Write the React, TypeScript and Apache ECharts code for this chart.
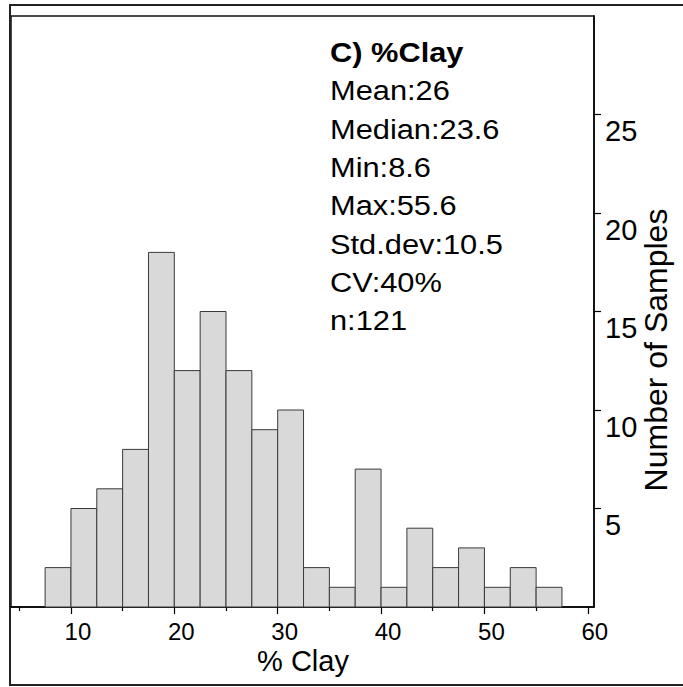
import React, { useEffect, useRef } from "react";
import * as echarts from "echarts";

// Histogram bins (% Clay) and counts
const binStarts = [7.5, 10, 12.5, 15, 17.5, 20, 22.5, 25, 27.5, 30, 32.5, 35, 37.5, 40, 42.5, 45, 47.5, 50, 52.5, 55];
const binEnds = [10, 12.5, 15, 17.5, 20, 22.5, 25, 27.5, 30, 32.5, 35, 37.5, 40, 42.5, 45, 47.5, 50, 52.5, 55, 57.5];
const counts = [2, 5, 6, 8, 18, 12, 15, 12, 9, 10, 2, 1, 7, 1, 4, 2, 3, 1, 2, 1];

// Axis ticks
const xMajorTicks = [10, 20, 30, 40, 50, 60];
const xMinorTicks = [5, 15, 25, 35, 45, 55];
const yTicks = [5, 10, 15, 20, 25];

// Annotation
const panelTitle = "C) %Clay";
const statLines = ["Mean:26", "Median:23.6", "Min:8.6", "Max:55.6", "Std.dev:10.5", "CV:40%", "n:121"];
const xTitle = "% Clay";
const yTitle = "Number of Samples";

const FONT = '"Liberation Sans", Arial, Helvetica, sans-serif';

export default function App() {
  const ref = useRef<HTMLDivElement>(null);

  useEffect(() => {
    if (!ref.current) return;
    const chart = echarts.init(ref.current, undefined, { renderer: "svg" });
    const data = binStarts.map((s, i) => [s, binEnds[i], counts[i]]);

    const X_MIN = 4.2;
    const X_MAX = 60.6;
    const TEXT_SX = 1.1;

    const graphics: any[] = [
      {
        type: "rect",
        shape: { x: 10, y: 5, width: 690, height: 680 },
        style: { fill: "none", stroke: "#222", lineWidth: 2 },
        silent: true,
      },
      {
        type: "text",
        x: 330,
        y: 52,
        scaleX: TEXT_SX,
        style: {
          text: panelTitle,
          fontFamily: FONT,
          fontSize: 28,
          fontWeight: "bold",
          fill: "#000",
          align: "left",
          verticalAlign: "middle",
        },
      },
      ...statLines.map((t, i) => ({
        type: "text",
        x: 330,
        y: 90.5 + i * 38.3,
        scaleX: TEXT_SX,
        style: {
          text: t,
          fontFamily: FONT,
          fontSize: 28,
          fill: "#000",
          align: "left",
          verticalAlign: "middle",
        },
      })),
      {
        type: "text",
        x: 303,
        y: 661,
        style: {
          text: xTitle,
          fontFamily: FONT,
          fontSize: 29,
          fill: "#000",
          align: "center",
          verticalAlign: "middle",
        },
      },
      {
        type: "text",
        x: 656,
        y: 350,
        rotation: Math.PI / 2,
        style: {
          text: yTitle,
          fontFamily: FONT,
          fontSize: 32,
          fill: "#000",
          align: "center",
          verticalAlign: "middle",
        },
      },
    ];

    chart.setOption({
      animation: false,
      backgroundColor: "#fff",
      grid: {
        left: 11,
        top: 16,
        width: 583,
        height: 591,
        show: true,
        borderColor: "#111",
        borderWidth: 1.5,
        backgroundColor: "transparent",
      },
      xAxis: [
        {
          type: "value",
          position: "bottom",
          min: X_MIN,
          max: X_MAX,
          axisLine: { show: true, onZero: false, lineStyle: { color: "#000", width: 1.5 } },
          axisTick: { show: true, customValues: xMajorTicks, length: 7, lineStyle: { color: "#000", width: 1.2 } },
          axisLabel: {
            show: true,
            customValues: xMajorTicks,
            fontFamily: FONT,
            fontSize: 24,
            color: "#000",
            margin: 12,
            padding: [0, 0, 0, 14],
          },
          splitLine: { show: false },
        },
        {
          type: "value",
          position: "bottom",
          offset: 0,
          min: X_MIN,
          max: X_MAX,
          axisLine: { show: false },
          axisTick: { show: true, customValues: xMinorTicks, length: 4, lineStyle: { color: "#000", width: 1.2 } },
          axisLabel: { show: false },
          splitLine: { show: false },
        },
      ],
      yAxis: {
        type: "value",
        position: "right",
        min: 0,
        max: 30,
        interval: 5,
        axisLine: { show: true, onZero: false, lineStyle: { color: "#000", width: 1.5 } },
        axisTick: { show: true, customValues: yTicks, length: 7, lineStyle: { color: "#000", width: 1.2 } },
        axisLabel: {
          show: true,
          customValues: yTicks,
          fontFamily: FONT,
          fontSize: 29,
          color: "#000",
          margin: 11,
          verticalAlign: "top",
          padding: [2, 0, 0, 0],
        },
        splitLine: { show: false },
      },
      series: [
        {
          type: "custom",
          xAxisIndex: 0,
          yAxisIndex: 0,
          data,
          encode: { x: [0, 1], y: 2 },
          renderItem: (params: any, api: any) => {
            const x0 = api.value(0);
            const x1 = api.value(1);
            const c = api.value(2);
            const p0 = api.coord([x0, 0]);
            const p1 = api.coord([x1, c]);
            return {
              type: "rect",
              shape: { x: p0[0], y: p1[1], width: p1[0] - p0[0], height: p0[1] - p1[1] },
              style: { fill: "#d9d9d9", stroke: "#3a3a3a", lineWidth: 1 },
            };
          },
        },
      ],
      graphic: graphics,
    });

    return () => chart.dispose();
  }, []);

  return (
    <div
      ref={ref}
      style={{ position: "fixed", left: 0, top: 0, width: 683, height: 687, background: "#fff" }}
    />
  );
}
